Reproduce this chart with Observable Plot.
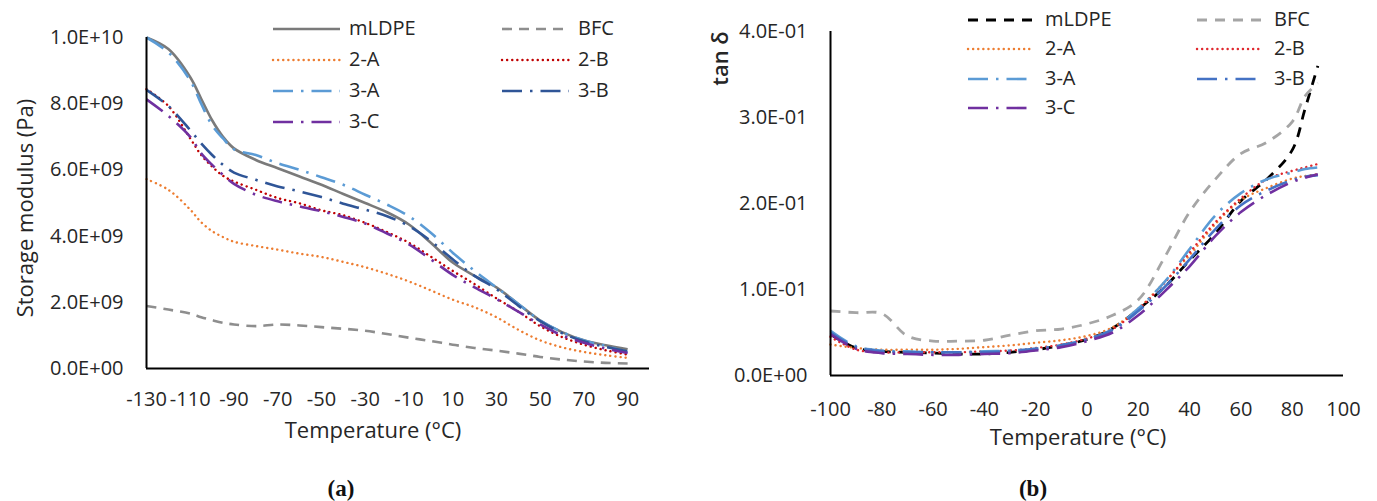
<!DOCTYPE html>
<html>
<head>
<meta charset="utf-8">
<script src="https://cdn.jsdelivr.net/npm/d3@7"></script>
<script src="https://cdn.jsdelivr.net/npm/@observablehq/plot@0.6"></script>
<style>
  body { margin: 0; background: #fff; }
  #root { position: relative; width: 1377px; height: 501px; background: #fff; overflow: hidden; font-family: "Open Sans", Lato, sans-serif; color: #262626; }
  .panel { position: absolute; top: 0; }
  .leg { position: absolute; font-size: 20px; white-space: nowrap; line-height: 1; }
  .cap { position: absolute; font-family: "Liberation Serif", "DejaVu Serif", serif; font-weight: bold; font-size: 23px; color: #111; transform: translate(-50%, -50%); }
</style>
</head>
<body>
<div id="root"></div>
<script>
// ---------- DATA ----------
const seriesNames = ["mLDPE", "BFC", "2-A", "2-B", "3-A", "3-B", "3-C"];

// (a) Storage modulus, values in units of 1E+09 Pa
const tempA = [-130, -120, -110, -105, -100, -95, -90, -80, -70, -60, -50, -40, -30, -20, -10, 0, 10, 20, 30, 40, 50, 60, 70, 80, 90];
const modA_mLDPE = [10.0, 9.65, 8.8, 8.15, 7.5, 7.0, 6.65, 6.3, 6.05, 5.8, 5.55, 5.27, 5.0, 4.72, 4.35, 3.8, 3.2, 2.8, 2.45, 1.95, 1.45, 1.1, 0.85, 0.7, 0.58];
const modA_BFC   = [1.89, 1.78, 1.66, 1.55, 1.46, 1.38, 1.33, 1.28, 1.33, 1.3, 1.25, 1.2, 1.14, 1.04, 0.93, 0.83, 0.72, 0.62, 0.54, 0.45, 0.35, 0.27, 0.21, 0.17, 0.15];
const modA_2A    = [5.72, 5.4, 4.8, 4.42, 4.15, 3.97, 3.83, 3.7, 3.59, 3.47, 3.37, 3.22, 3.06, 2.86, 2.63, 2.36, 2.08, 1.85, 1.55, 1.17, 0.85, 0.64, 0.5, 0.4, 0.32];
const modA_2B    = [8.44, 7.93, 6.95, 6.45, 6.1, 5.82, 5.65, 5.4, 5.15, 4.99, 4.78, 4.63, 4.4, 4.12, 3.8, 3.38, 2.95, 2.55, 2.12, 1.72, 1.28, 0.95, 0.72, 0.55, 0.42];
const modA_3A    = [10.0, 9.55, 8.7, 8.0, 7.35, 6.95, 6.62, 6.45, 6.2, 6.0, 5.78, 5.55, 5.25, 4.95, 4.6, 4.1, 3.5, 2.95, 2.45, 1.95, 1.45, 1.1, 0.85, 0.68, 0.5];
const modA_3B    = [8.42, 7.93, 7.2, 6.8, 6.45, 6.15, 5.92, 5.7, 5.5, 5.35, 5.18, 4.98, 4.8, 4.6, 4.3, 3.85, 3.3, 2.8, 2.4, 1.9, 1.43, 1.07, 0.82, 0.65, 0.52];
const modA_3C    = [8.13, 7.63, 7.0, 6.5, 6.15, 5.85, 5.58, 5.25, 5.05, 4.9, 4.75, 4.58, 4.38, 4.08, 3.75, 3.3, 2.83, 2.45, 2.1, 1.72, 1.33, 1.0, 0.78, 0.6, 0.47];
const unitA = 1e9;
const yTicksA = [0, 2e9, 4e9, 6e9, 8e9, 1e10];
const xTicksA = [-130, -110, -90, -70, -50, -30, -10, 10, 30, 50, 70, 90];

// (b) tan delta
const tempB = [-100, -90, -80, -70, -60, -50, -40, -30, -20, -10, 0, 10, 20, 30, 40, 50, 60, 70, 80, 85, 90];
const tanB_mLDPE = [0.048, 0.032, 0.028, 0.027, 0.026, 0.025, 0.025, 0.027, 0.030, 0.035, 0.042, 0.055, 0.077, 0.102, 0.134, 0.165, 0.203, 0.228, 0.262, 0.310, 0.360];
const tanB_BFC   = [0.075, 0.073, 0.072, 0.046, 0.040, 0.040, 0.041, 0.047, 0.052, 0.054, 0.060, 0.070, 0.088, 0.136, 0.190, 0.228, 0.258, 0.271, 0.295, 0.325, 0.340];
const tanB_2A    = [0.036, 0.032, 0.030, 0.030, 0.030, 0.031, 0.033, 0.035, 0.038, 0.041, 0.046, 0.056, 0.078, 0.108, 0.140, 0.176, 0.204, 0.218, 0.229, 0.232, 0.234];
const tanB_2B    = [0.045, 0.030, 0.027, 0.027, 0.027, 0.027, 0.028, 0.029, 0.032, 0.036, 0.043, 0.054, 0.077, 0.107, 0.143, 0.178, 0.206, 0.228, 0.238, 0.242, 0.246];
const tanB_3A    = [0.052, 0.034, 0.029, 0.028, 0.027, 0.027, 0.028, 0.029, 0.031, 0.035, 0.042, 0.054, 0.078, 0.108, 0.147, 0.186, 0.212, 0.228, 0.236, 0.240, 0.242];
const tanB_3B    = [0.050, 0.033, 0.028, 0.027, 0.027, 0.027, 0.027, 0.028, 0.031, 0.035, 0.042, 0.053, 0.075, 0.102, 0.135, 0.170, 0.198, 0.215, 0.227, 0.231, 0.233];
const tanB_3C    = [0.048, 0.031, 0.026, 0.025, 0.024, 0.024, 0.025, 0.026, 0.029, 0.033, 0.040, 0.050, 0.070, 0.097, 0.127, 0.162, 0.190, 0.210, 0.225, 0.230, 0.234];
const yTicksB = [0, 0.1, 0.2, 0.3, 0.4];
const xTicksB = [-100, -80, -60, -40, -20, 0, 20, 40, 60, 80, 100];

// ---------- STYLES ----------
const dot = "0.1,5", dashDot = "20,8,2.5,8";
const stylesA = {
  "mLDPE": {stroke: "#7a7a7a", width: 2.6},
  "BFC":   {stroke: "#8e8e8e", width: 2.6, dash: "10,7"},
  "2-A":   {stroke: "#ed7d31", width: 2.4, dash: dot, cap: "round"},
  "2-B":   {stroke: "#c00000", width: 2.4, dash: dot, cap: "round"},
  "3-A":   {stroke: "#5b9bd5", width: 2.6, dash: dashDot},
  "3-B":   {stroke: "#2f5597", width: 2.6, dash: dashDot},
  "3-C":   {stroke: "#7030a0", width: 2.6, dash: dashDot}
};
const stylesB = {
  "mLDPE": {stroke: "#000000", width: 2.8, dash: "10,8"},
  "BFC":   {stroke: "#a5a5a5", width: 2.8, dash: "10,8"},
  "2-A":   {stroke: "#ed7d31", width: 2.4, dash: dot, cap: "round"},
  "2-B":   {stroke: "#e0282e", width: 2.4, dash: dot, cap: "round"},
  "3-A":   {stroke: "#5b9bd5", width: 2.6, dash: dashDot},
  "3-B":   {stroke: "#4472c4", width: 2.6, dash: dashDot},
  "3-C":   {stroke: "#7030a0", width: 2.6, dash: dashDot}
};

// ---------- TABLES ----------
const seriesA = [modA_mLDPE, modA_BFC, modA_2A, modA_2B, modA_3A, modA_3B, modA_3C];
const seriesB = [tanB_mLDPE, tanB_BFC, tanB_2A, tanB_2B, tanB_3A, tanB_3B, tanB_3C];
const tableA = seriesNames.flatMap((s, k) => tempA.map((t, i) => ({series: s, t, v: seriesA[k][i] * unitA})));
const tableB = seriesNames.flatMap((s, k) => tempB.map((t, i) => ({series: s, t, v: seriesB[k][i]})));

function sci(d) {
  if (d === 0) return "0.0E+00";
  const e = Math.floor(Math.log10(Math.abs(d)) + 1e-9);
  const m = d / Math.pow(10, e);
  return m.toFixed(1) + "E" + (e < 0 ? "-" : "+") + String(Math.abs(e)).padStart(2, "0");
}
const plain = d => String(d);

function lineMarks(table, styles) {
  return seriesNames.map(s => Plot.line(table.filter(d => d.series === s), {
    x: "t", y: "v", stroke: styles[s].stroke, strokeWidth: styles[s].width,
    strokeDasharray: styles[s].dash, strokeLinecap: styles[s].cap || "butt",
    curve: "catmull-rom"
  }));
}

const font = "'Open Sans', Lato, sans-serif";
const baseStyle = {fontFamily: font, fontSize: "20px", color: "#262626", background: "transparent", overflow: "visible"};

const plotA = Plot.plot({
  width: 680, height: 460,
  marginLeft: 146, marginRight: 31, marginTop: 37, marginBottom: 92,
  style: baseStyle,
  x: {domain: [-130, 100]},
  y: {domain: [0, 1e10]},
  marks: [
    ...lineMarks(tableA, stylesA),
    Plot.ruleY([0], {stroke: "#000", strokeWidth: 2}),
    Plot.ruleX([-130], {stroke: "#000", strokeWidth: 2}),
    Plot.axisX({ticks: xTicksA, tickSize: 0, tickPadding: 23, tickFormat: plain, label: null, fontSize: 20}),
    Plot.axisY({ticks: yTicksA, tickSize: 0, tickPadding: 23, tickFormat: sci, label: null, fontSize: 20}),
    Plot.text(["Temperature (°C)"], {frameAnchor: "bottom", dy: 62, dx: -25, fontSize: 22, lineAnchor: "middle", textAnchor: "middle"}),
    Plot.text(["Storage modulus (Pa)"], {frameAnchor: "left", dx: -121, dy: 5, rotate: -90, fontSize: 22, lineAnchor: "middle", textAnchor: "middle"})
  ]
});

const plotB = Plot.plot({
  width: 697, height: 460,
  marginLeft: 150, marginRight: 34, marginTop: 31, marginBottom: 85,
  style: baseStyle,
  x: {domain: [-100, 100]},
  y: {domain: [0, 0.4]},
  marks: [
    ...lineMarks(tableB, stylesB),
    Plot.ruleY([0], {stroke: "#000", strokeWidth: 2}),
    Plot.ruleX([-100], {stroke: "#000", strokeWidth: 2}),
    Plot.axisX({ticks: xTicksB, tickSize: 0, tickPadding: 26, tickFormat: plain, label: null, fontSize: 20}),
    Plot.axisY({ticks: yTicksB, tickSize: 0, tickPadding: 23, tickFormat: sci, label: null, fontSize: 20}),
    Plot.text(["Temperature (°C)"], {frameAnchor: "bottom", dy: 62, dx: -9, fontSize: 22, lineAnchor: "middle", textAnchor: "middle"}),
    Plot.text(["tan δ"], {frameAnchor: "top-left", dx: -110, dy: 27, rotate: -90, fontSize: 22, fontWeight: 600, lineAnchor: "middle", textAnchor: "middle"})
  ]
});

const root = document.getElementById("root");
const pa = document.createElement("div"); pa.className = "panel"; pa.style.left = "0px"; pa.appendChild(plotA); root.appendChild(pa);
const pb = document.createElement("div"); pb.className = "panel"; pb.style.left = "680px"; pb.appendChild(plotB); root.appendChild(pb);

// ---------- LEGENDS ----------
function legend(styles, left, top, rowGap, colGap, swatchW, textOff) {
  seriesNames.forEach((s, i) => {
    const row = Math.floor(i / 2), col = i % 2;
    const x = left + col * colGap, y = top + row * rowGap;
    const st = styles[s];
    const svg = d3.create("svg").attr("width", swatchW + 4).attr("height", 10)
      .style("position", "absolute").style("left", (x - 2) + "px").style("top", (y - 5) + "px").style("overflow", "visible");
    svg.append("line").attr("x1", 2).attr("x2", swatchW + 2).attr("y1", 5).attr("y2", 5)
      .attr("stroke", st.stroke).attr("stroke-width", st.width)
      .attr("stroke-dasharray", st.dash || null).attr("stroke-linecap", st.cap || "butt");
    root.appendChild(svg.node());
    const t = document.createElement("div");
    t.className = "leg"; t.textContent = s;
    t.style.left = (x + textOff) + "px"; t.style.top = (y - 11) + "px";
    root.appendChild(t);
  });
}
legend(stylesA, 273, 29, 31, 229, 67, 76);
legend(stylesB, 968, 20, 29.3, 229, 64, 77);

// ---------- CAPTIONS ----------
[["(a)", 341], ["(b)", 1033]].forEach(([txt, x]) => {
  const c = document.createElement("div"); c.className = "cap"; c.textContent = txt;
  c.style.left = x + "px"; c.style.top = "489px"; root.appendChild(c);
});
</script>
</body>
</html>
